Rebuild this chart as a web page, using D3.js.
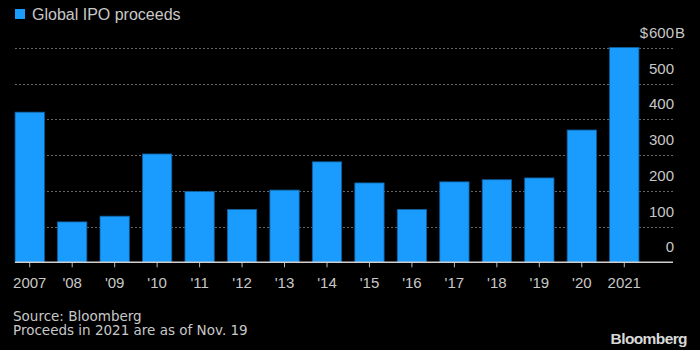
<!DOCTYPE html>
<html>
<head>
<meta charset="utf-8">
<script src="https://cdn.jsdelivr.net/npm/d3@7"></script>
<style>
  body { margin: 0; background: #000; }
  svg { display: block; font-family: "Liberation Sans", Arial, sans-serif; }
</style>
</head>
<body>
<div id="container"></div>
<script>
/* DATA */
const years = ["2007", "'08", "'09", "'10", "'11", "'12", "'13", "'14", "'15", "'16", "'17", "'18", "'19", "'20", "2021"];
const proceeds = [420, 113, 129, 303, 198, 148, 202, 281, 222, 148, 225, 231, 236, 370, 601];
const yTicks = [0, 100, 200, 300, 400, 500, 600];
const yTickLabels = ["0", "100", "200", "300", "400", "500", "600"];

/* CONSTANTS */
const width = 700, height = 350;
const barColor = "#1a9cff";
const textColor = "#c8c8c8";

const svg = d3.select("#container")
  .append("svg")
  .attr("width", width)
  .attr("height", height);

svg.append("rect")
  .attr("width", width).attr("height", height)
  .attr("fill", "#000");

// scales
const xScale = d3.scaleBand()
  .domain(years)
  .range([8.5, 645.5])
  .paddingInner(0.31)
  .paddingOuter(0.155);

const yScale = d3.scaleLinear()
  .domain([0, 600])
  .range([262.3, 47.8]);

// gridlines (dotted)
svg.append("g")
  .selectAll("line")
  .data(yTicks.filter(d => d > 0))
  .join("line")
  .attr("x1", 15)
  .attr("x2", 673)
  .attr("y1", d => Math.round(yScale(d)) + 0.5)
  .attr("y2", d => Math.round(yScale(d)) + 0.5)
  .attr("stroke", "#666")
  .attr("stroke-width", 1)
  .attr("stroke-dasharray", "2,2");

// y labels, sitting above their gridline
const yLabels = svg.append("g")
  .selectAll("text")
  .data(yTicks)
  .join("text")
  .attr("x", 674)
  .attr("y", d => yScale(d) - 10)
  .attr("text-anchor", "end")
  .attr("fill", textColor)
  .attr("font-size", 15)
  .text((d, i) => yTickLabels[i]);

// unit on the top label: "$ " before, "B" hanging past the column
const topLabel = yLabels.filter(d => d === 600);
const topW = topLabel.node().getComputedTextLength();
svg.append("text")
  .attr("x", 674 - topW - 1)
  .attr("y", yScale(600) - 10)
  .attr("text-anchor", "end")
  .attr("fill", textColor)
  .attr("font-size", 15)
  .text("$");
svg.append("text")
  .attr("x", 675)
  .attr("y", yScale(600) - 10)
  .attr("fill", textColor)
  .attr("font-size", 15)
  .text("B");

// bars
svg.append("g")
  .selectAll("rect")
  .data(proceeds)
  .join("rect")
  .attr("x", (d, i) => xScale(years[i]))
  .attr("y", d => yScale(d))
  .attr("width", xScale.bandwidth())
  .attr("height", d => yScale(0) - yScale(d))
  .attr("fill", barColor)
  .attr("stroke", "#0f5e9c")
  .attr("stroke-width", 0.8);

// x axis
const xAxis = d3.axisBottom(xScale)
  .tickSize(5)
  .tickSizeOuter(0)
  .tickPadding(10);

const xAxisGroup = svg.append("g")
  .attr("transform", `translate(0, ${yScale(0)})`)
  .call(xAxis);

xAxisGroup.select(".domain").remove();
xAxisGroup.selectAll(".tick line").attr("stroke", "#bbb");
xAxisGroup.selectAll(".tick text")
  .attr("fill", textColor)
  .attr("font-size", 15)
  .attr("font-family", "Liberation Sans, Arial, sans-serif");

svg.append("line")
  .attr("x1", 15).attr("x2", 673)
  .attr("y1", yScale(0)).attr("y2", yScale(0))
  .attr("stroke", "#cfcfcf")
  .attr("stroke-width", 1.5);

// legend / title
svg.append("rect")
  .attr("x", 15).attr("y", 9)
  .attr("width", 10).attr("height", 10)
  .attr("fill", barColor);

svg.append("text")
  .attr("x", 32).attr("y", 20)
  .attr("fill", textColor)
  .attr("font-size", 16)
  .text("Global IPO proceeds");

// notes
svg.append("text")
  .attr("x", 13).attr("y", 320.5)
  .attr("fill", textColor)
  .attr("font-size", 13.5)
  .attr("font-family", "DejaVu Sans, sans-serif")
  .text("Source: Bloomberg");

svg.append("text")
  .attr("x", 13).attr("y", 335)
  .attr("fill", textColor)
  .attr("font-size", 13.5)
  .attr("font-family", "DejaVu Sans, sans-serif")
  .text("Proceeds in 2021 are as of Nov. 19");

svg.append("text")
  .attr("x", 687).attr("y", 344)
  .attr("text-anchor", "end")
  .attr("fill", "#d8d8d8")
  .attr("font-size", 15.5)
  .attr("font-weight", "bold")
  .attr("letter-spacing", -0.6)
  .text("Bloomberg");
</script>
</body>
</html>
